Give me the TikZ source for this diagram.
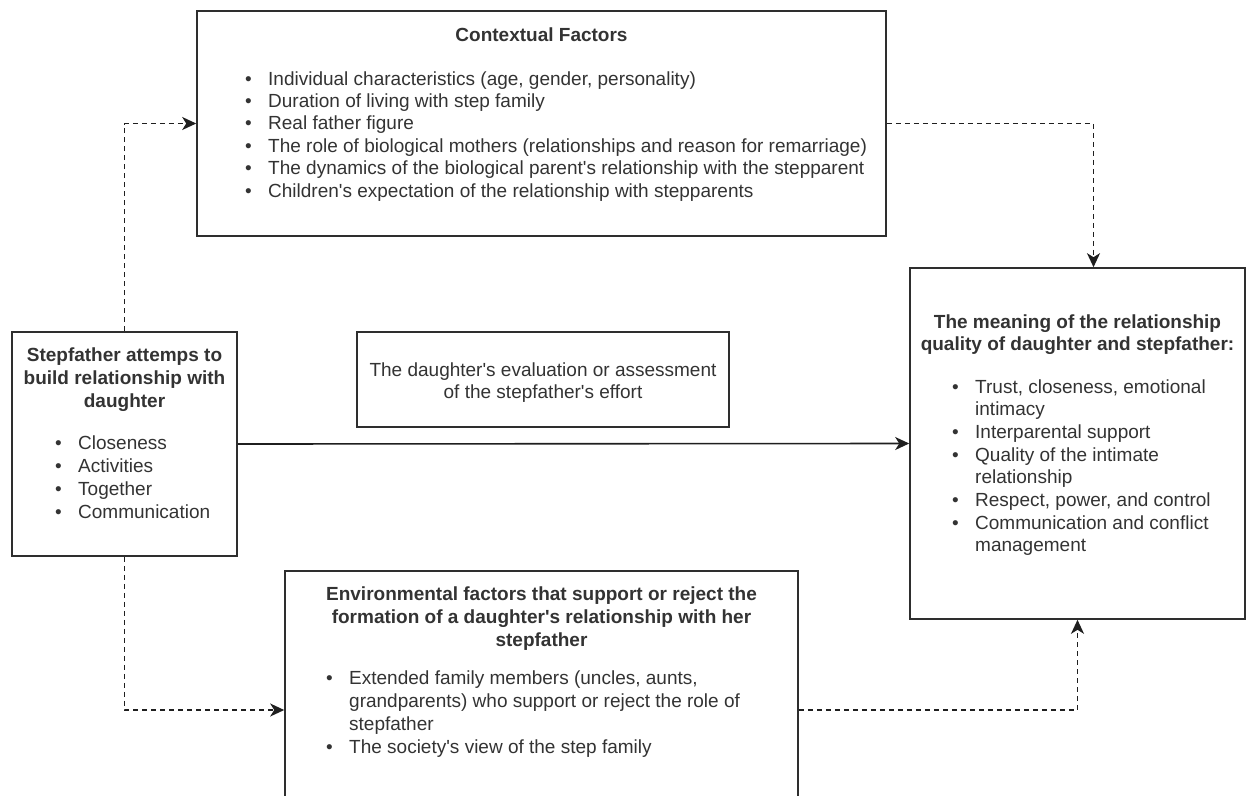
\documentclass[tikz,border=0pt]{standalone}
\usepackage{fontspec}
\setmainfont{Liberation Sans}
\usetikzlibrary{arrows.meta}
\newcommand{\bul}{\makebox[23pt][l]{\textbullet}}
\newcommand{\cont}{\hspace*{23pt}}
\newcommand{\ap}{\textquotesingle}
\begin{document}
\begin{tikzpicture}[x=1pt,y=-1pt,
  box/.style={draw=black!82, line width=1.6pt, rectangle, inner sep=0pt, fill=white},
  txt/.style={inner sep=0pt, text=black!80, font=\fontsize{19}{22.8}\selectfont},
  conn/.style={draw=black!88, line width=1.6pt, -{Stealth[length=14pt,width=13pt,inset=4pt]}},
  dconn/.style={conn, dash pattern=on 5pt off 4pt}]
\useasboundingbox (0,0) rectangle (1247,795);
\clip (0,0) rectangle (1247,795);
\fill[white] (0,0) rectangle (1247,795);

% boxes
\node[box, minimum width=689pt, minimum height=225pt] (ctx) at (541.5,123.5) {};
\node[box, minimum width=225pt, minimum height=224pt] (sf) at (124.5,444) {};
\node[box, minimum width=372pt, minimum height=95pt] (ev) at (543,379.5) {};
\node[box, minimum width=335pt, minimum height=351pt] (mean) at (1077.5,443.5) {};
\node[box, minimum width=513pt, minimum height=278pt] (env) at (541.5,710) {};

% contextual factors
\node[txt, anchor=base, font=\fontsize{19}{22.8}\selectfont\bfseries] (ctxT) at (541.5,41) {Contextual Factors};
\node[txt, anchor=base west, font=\fontsize{19}{22.4}\selectfont] (ctxL) at (245,85) {\parbox[t]{640pt}{\raggedright
\bul Individual characteristics (age, gender, personality)\\
\bul Duration of living with step family\\
\bul Real father figure\\
\bul The role of biological mothers (relationships and reason for remarriage)\\
\bul The dynamics of the biological parent\ap s relationship with the stepparent\\
\bul Children\ap s expectation of the relationship with stepparents}};

% stepfather
\node[txt, anchor=base, font=\fontsize{19}{23.2}\selectfont\bfseries] (sfT) at (124.5,361) {\parbox[t]{220pt}{\centering
Stepfather attemps to\\ build relationship with\\ daughter}};
\node[txt, anchor=base west, font=\fontsize{19}{23}\selectfont] (sfL) at (55,449) {\parbox[t]{180pt}{\raggedright
\bul Closeness\\ \bul Activities\\ \bul Together\\ \bul Communication}};

% evaluation
\node[txt, anchor=base] (evT) at (543,376) {\parbox[t]{370pt}{\centering
The daughter\ap s evaluation or assessment\\ of the stepfather\ap s effort}};

% meaning
\node[txt, anchor=base, font=\fontsize{19}{22}\selectfont\bfseries] (meanT) at (1077.5,328) {\parbox[t]{330pt}{\centering
The meaning of the relationship\\ quality of daughter and stepfather:}};
\node[txt, anchor=base west, font=\fontsize{19}{22.7}\selectfont] (meanL) at (952,393) {\parbox[t]{290pt}{\raggedright
\bul Trust, closeness, emotional\\ \cont intimacy\\
\bul Interparental support\\
\bul Quality of the intimate\\ \cont relationship\\
\bul Respect, power, and control\\
\bul Communication and conflict\\ \cont management}};

% environmental
\node[txt, anchor=base, font=\fontsize{19}{23}\selectfont\bfseries] (envT) at (541.5,600) {\parbox[t]{510pt}{\centering
Environmental factors that support or reject the\\ formation of a daughter\ap s relationship with her\\ stepfather}};
\node[txt, anchor=base west, font=\fontsize{19}{23}\selectfont] (envL) at (326,684) {\parbox[t]{460pt}{\raggedright
\bul Extended family members (uncles, aunts,\\ \cont grandparents) who support or reject the role of\\ \cont stepfather\\
\bul The society\ap s view of the step family}};

% connectors
\draw[dconn] (sf.north) |- (ctx.west);
\draw[dconn] (ctx.east) -| ([xshift=16pt]mean.north);
\draw[conn] (sf.east) -- (mean.west);
\draw[dconn] (sf.south) |- (env.west);
\draw[dconn] (env.east) -| (mean.south);
\end{tikzpicture}
\end{document}
